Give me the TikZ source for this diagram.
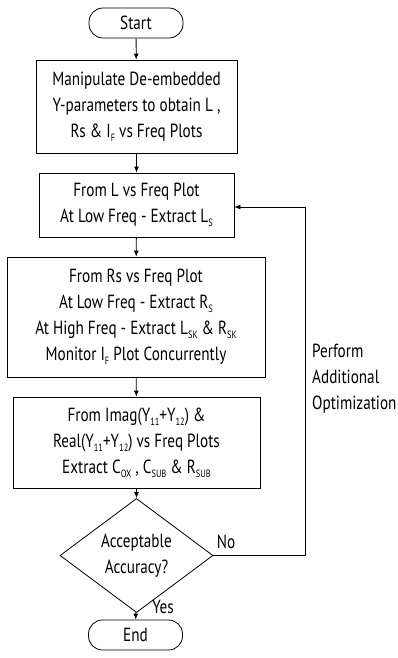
\documentclass[tikz,border=0pt]{standalone}
\usepackage{fontspec}
\setmainfont[FakeStretch=0.8]{PT Sans}
\usetikzlibrary{shapes.geometric,arrows.meta}
\newcommand\sbs[1]{\raisebox{-0.45ex}{\fontsize{10.5}{11}\selectfont #1}}
\begin{document}
\begin{tikzpicture}[x=1pt,y=-1pt,
  every node/.style={font=\fontsize{19}{26}\selectfont, inner sep=0pt},
  procbox/.style={draw, line width=0.8pt, align=center},
  termbox/.style={draw, line width=0.8pt, rounded corners=14pt, minimum width=94pt, minimum height=30pt},
  decbox/.style={draw, line width=0.8pt, diamond, align=center, minimum width=153pt, minimum height=93pt},
  flow/.style={line width=0.8pt, -{Latex[length=6pt,width=5pt]}},
  lbl/.style={align=left}]
\useasboundingbox (0,0) rectangle (397,658);
\node[termbox] (start) at (136,23) {Start};
\node[procbox, minimum width=201pt, minimum height=93pt] (b1) at (136.5,106.5)
  {Manipulate De-embedded\\Y-parameters to obtain L ,\\Rs \& I\sbs{F} vs Freq Plots};
\node[procbox, minimum width=195pt, minimum height=64pt] (b2) at (136.5,205)
  {From L vs Freq Plot\\At Low Freq - Extract L\sbs{S}};
\node[procbox, minimum width=258pt, minimum height=120pt] (b3) at (136,317)
  {From Rs vs Freq Plot\\At Low Freq - Extract R\sbs{S}\\At High Freq - Extract L\sbs{SK} \& R\sbs{SK}\\Monitor I\sbs{F} Plot Concurrently};
\node[procbox, minimum width=247pt, minimum height=91pt] (b4) at (136.5,442.5)
  {From Imag(Y\sbs{11}+Y\sbs{12}) \&\\Real(Y\sbs{11}+Y\sbs{12}) vs Freq Plots\\Extract C\sbs{OX} , C\sbs{SUB} \& R\sbs{SUB}};
\node[decbox] (dec) at (136.5,555.5) {Acceptable\\Accuracy?};
\node[termbox] (stop) at (135.5,635) {End};
\coordinate (fbA) at (305,555.5);
\coordinate (fbB) at (305,207);
\draw[flow] (start) -- (b1);
\draw[flow] (b1) -- (b2);
\draw[flow] (b2) -- (b3);
\draw[flow] (b3) -- (b4);
\draw[flow] (b4) -- (dec);
\draw[flow] (dec) -- (stop);
\draw[flow] (dec.east) -- (fbA) -- (fbB) -- (fbB -| b2.east);
\node (no) at (226,542) {No};
\node (yes) at (163,607) {Yes};
\node[lbl, anchor=west] (perf) at (312,379) {Perform\\Additional\\Optimization};
\end{tikzpicture}
\end{document}
